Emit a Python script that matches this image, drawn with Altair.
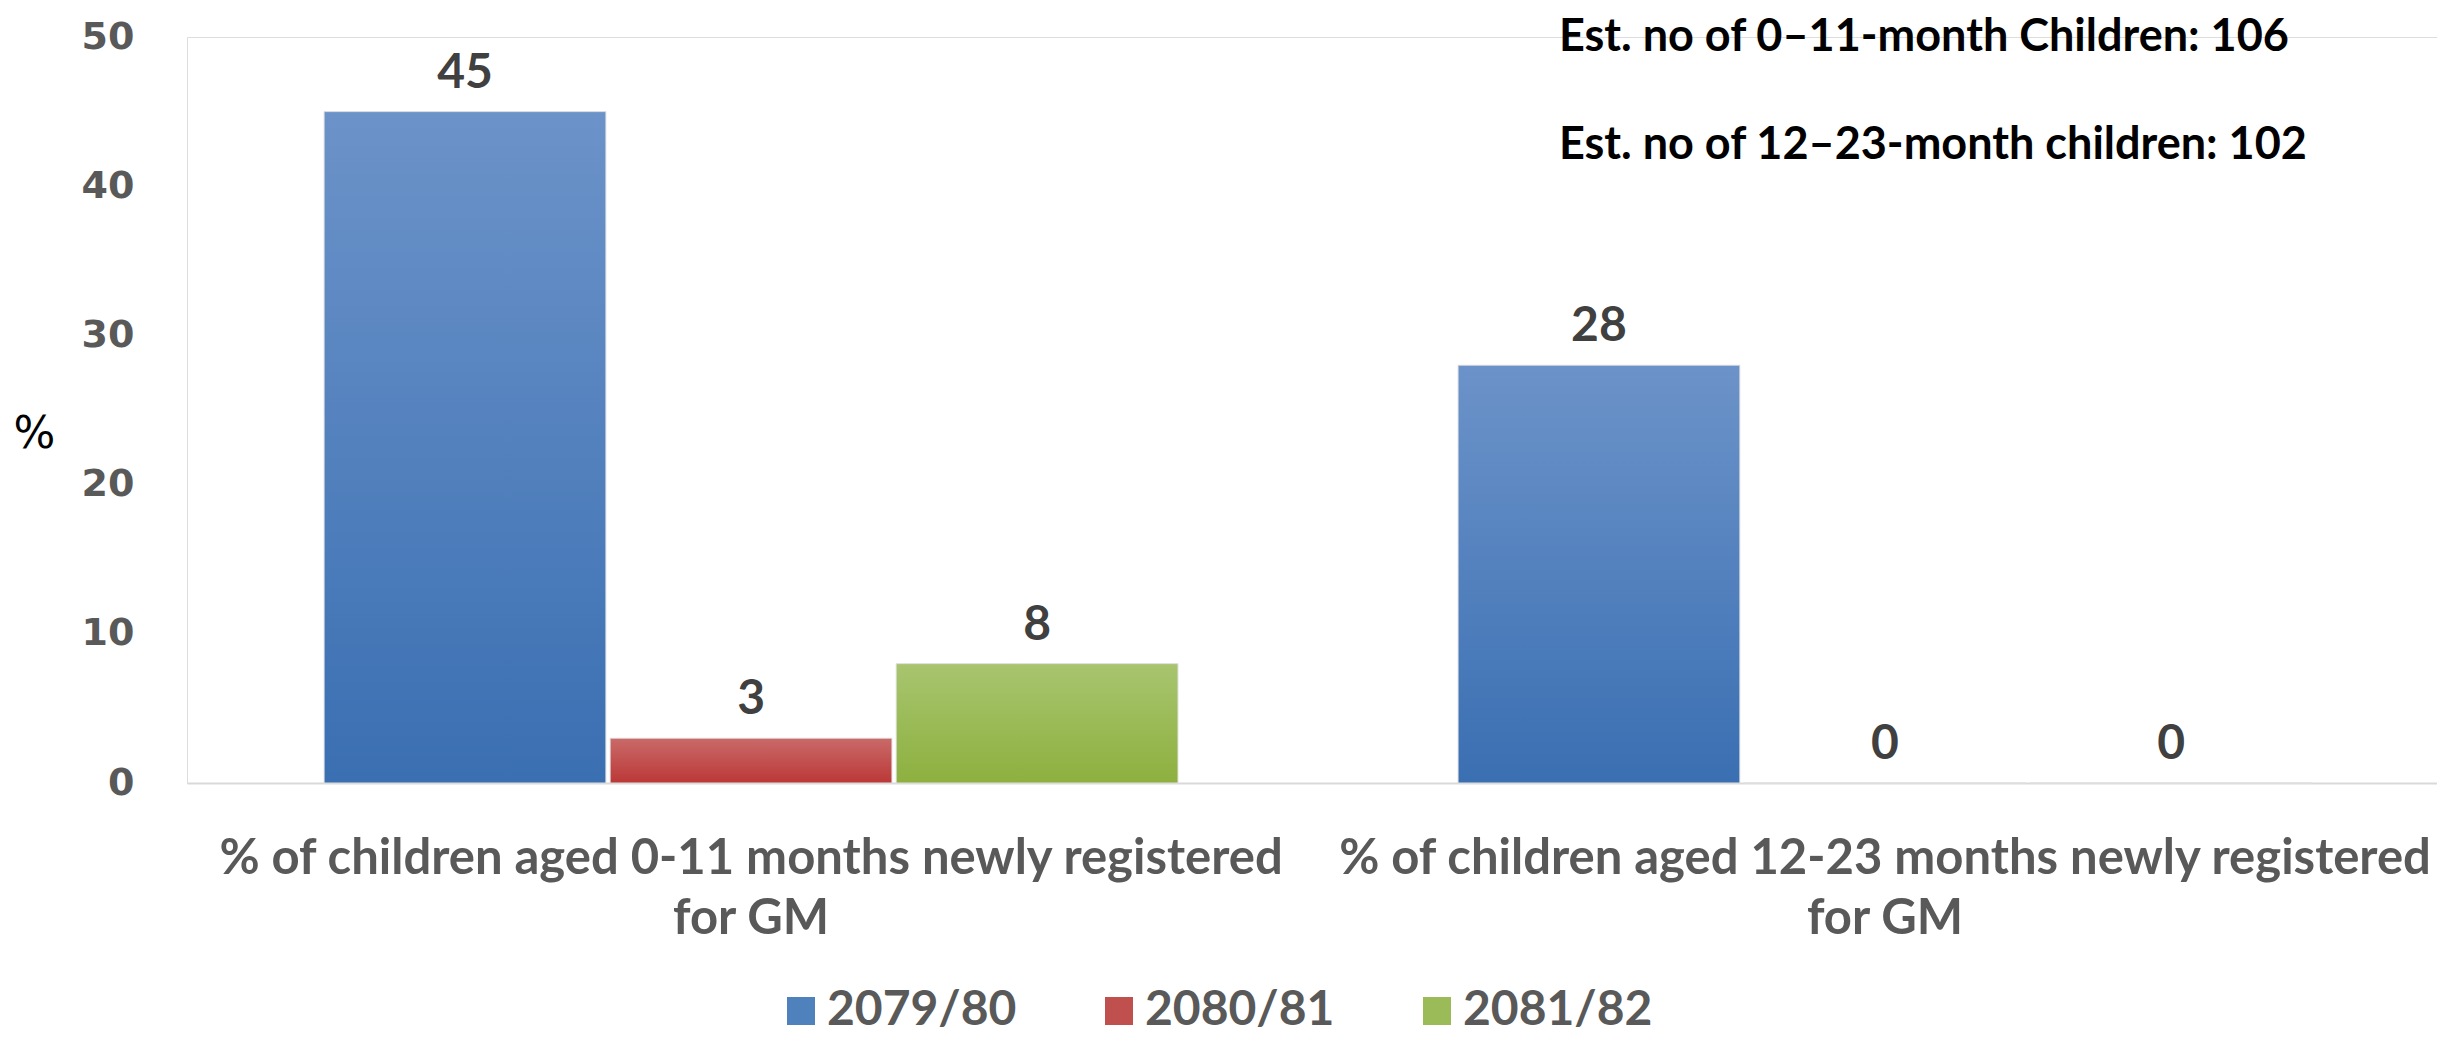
import altair as alt
import pandas as pd

categories = [
    "% of children aged 0-11 months newly registered for GM",
    "% of children aged 12-23 months newly registered for GM",
]
series = ["2079/80", "2080/81", "2081/82"]
values_2079_80 = [45, 28]
values_2080_81 = [3, 0]
values_2081_82 = [8, 0]
y_ticks = [0, 10, 20, 30, 40, 50]
annotation_lines = [
    "Est. no of 0\u201311-month Children: 106",
    "Est. no of 12\u201323-month children: 102",
]

solid_colors = ["#4F81BD", "#C0504D", "#9BBB59"]
grad_tops = ["#6C93C9", "#C96A69", "#A8C56F"]
grad_bottoms = ["#3A6FB2", "#BB3837", "#8DB03F"]

rows = []
for s, vals in zip(series, [values_2079_80, values_2080_81, values_2081_82]):
    for c, v in zip(categories, vals):
        rows.append({"category": c, "series": s, "value": v})
df = pd.DataFrame(rows)

x_enc = alt.X(
    "category:N",
    sort=categories,
    scale=alt.Scale(paddingInner=0.247, paddingOuter=0.1156, align=0.523),
    axis=alt.Axis(
        title=None,
        labelAngle=0,
        labelFont="Lato",
        labelFontWeight="bold",
        labelFontSize=49,
        labelColor="#595959",
        labelPadding=51,
        labelLineHeight=60,
        labelBaseline="top",
        labelLimit=1500,
        labelExpr="[replace(datum.label, ' for GM', ''), 'for GM']",
        ticks=False,
        domainColor="#D9D9D9",
        domainWidth=2,
        grid=False,
    ),
)
xoff_enc = alt.XOffset("series:N", sort=series, scale=alt.Scale(paddingInner=0.015))
y_enc = alt.Y(
    "value:Q",
    scale=alt.Scale(domain=[0, 50]),
    axis=alt.Axis(
        values=y_ticks,
        domain=False,
        ticks=False,
        grid=False,
        labelFont="DejaVu Sans",
        labelFontWeight="bold",
        labelFontSize=38,
        labelColor="#595959",
        labelPadding=53,
        title="%",
        titleAngle=0,
        titleX=-153,
        titleY=397,
        titleAlign="center",
        titleBaseline="middle",
        titleFont="DejaVu Sans",
        titleFontWeight="normal",
        titleFontSize=44,
        titleColor="#000000",
    ),
)

base = alt.Chart(df).encode(x=x_enc, xOffset=xoff_enc, y=y_enc)

solid = base.mark_bar().encode(
    color=alt.Color(
        "series:N",
        sort=series,
        scale=alt.Scale(domain=series, range=solid_colors),
        legend=alt.Legend(
            orient="none",
            legendX=590,
            legendY=950,
            direction="horizontal",
            title=None,
            symbolType="square",
            symbolSize=784,
            symbolStrokeWidth=0,
            labelFont="Lato",
            labelFontSize=48,
            labelFontWeight="bold",
            labelColor="#595959",
            labelOffset=2,
            labelLimit=500,
            columnPadding=78,
        ),
    )
)

layers = [solid]
for s, top, bottom in zip(series, grad_tops, grad_bottoms):
    g = alt.LinearGradient(
        gradient="linear",
        stops=[alt.GradientStop(color=top, offset=0), alt.GradientStop(color=bottom, offset=1)],
        x1=0, x2=0, y1=0, y2=1,
    )
    layers.append(
        base.transform_filter(alt.datum.series == s).mark_bar(fill=g, stroke="#E0E0E0", strokeWidth=1)
    )

labels = base.mark_text(
    dy=-38, fontSize=48, font="Lato", fontWeight="bold", color="#404040", baseline="middle"
).encode(text=alt.Text("value:Q"))
layers.append(labels)

ann_y = [0, 108]
for line, yy in zip(annotation_lines, ann_y):
    layers.append(
        alt.Chart(pd.DataFrame({"t": [line]}))
        .mark_text(align="left", baseline="middle", font="Lato", fontWeight="bold", fontSize=45, color="#000000")
        .encode(text="t:N", x=alt.value(1372), y=alt.value(yy))
    )

chart = (
    alt.layer(*layers)
    .properties(
        width=2250,
        height=746,
        padding={"left": 179, "top": 29, "right": 0, "bottom": 256},
        autosize=alt.AutoSizeParams(type="none"),
    )
    .configure_view(stroke=None)
    .configure(background="white")
)

chart.save("out.html", embed_options={"renderer": "svg", "actions": False})
